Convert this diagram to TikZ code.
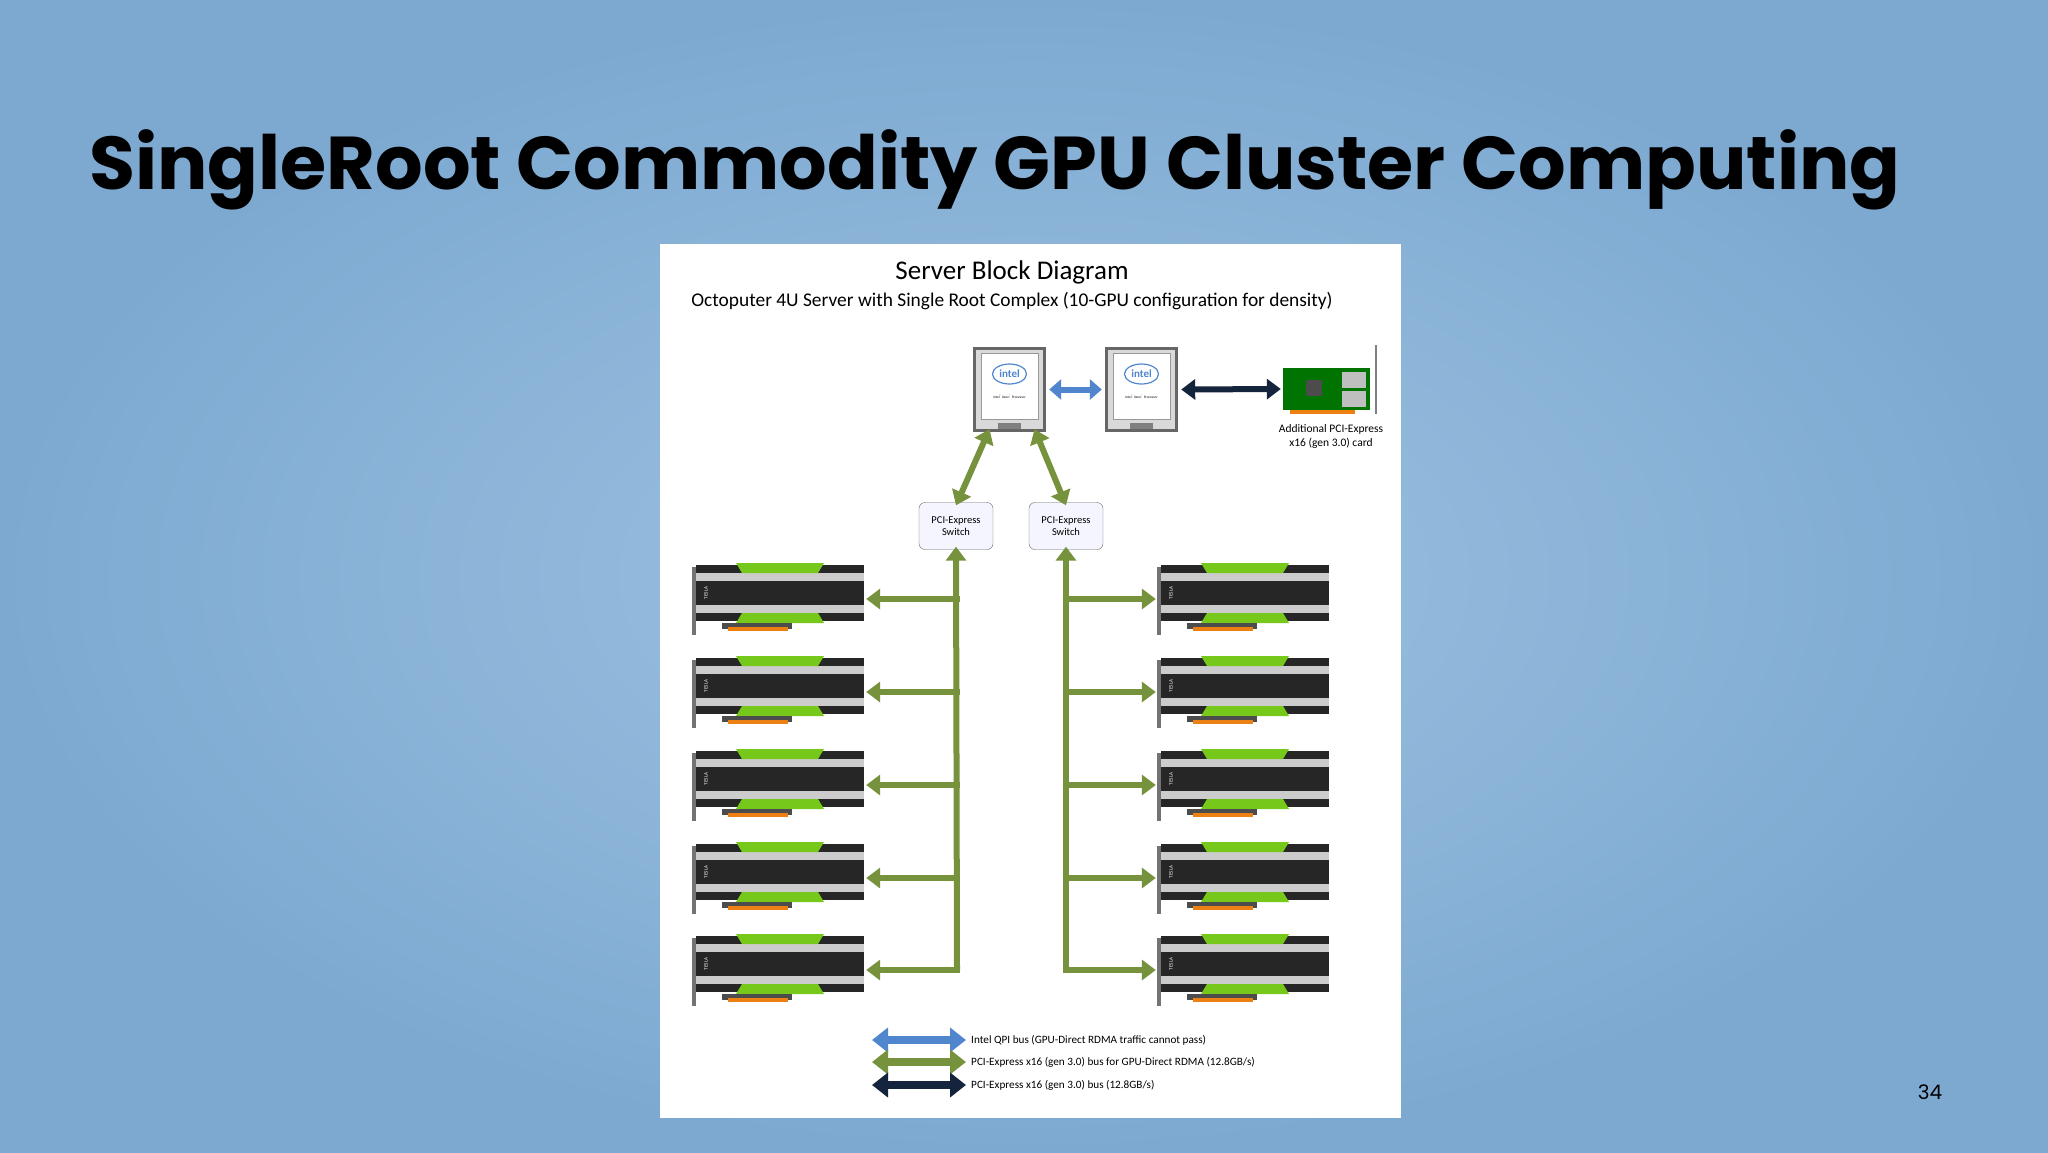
\documentclass[tikz,border=0pt]{standalone}
\usepackage{fontspec}
\setmainfont{Carlito}
\newfontfamily\titlefont{Poppins}
\usetikzlibrary{arrows.meta,shapes.geometric}
\definecolor{bgblue}{HTML}{8DB8DC}
\definecolor{bgedge}{HTML}{7DA9D1}
\definecolor{qpi}{HTML}{4F86CD}
\definecolor{pcig}{HTML}{76923C}
\definecolor{pcid}{HTML}{14243C}
\definecolor{nvg}{HTML}{76C81A}
\tikzset{
  bus/.style={line width=6pt,draw=pcig,{Triangle[length=14pt,width=20pt]}-{Triangle[length=14pt,width=20pt]}},
  onebus/.style={line width=6pt,draw=pcig,-{Triangle[length=14pt,width=20pt]}},
  leg/.style={line width=8pt,{Triangle[length=16pt,width=24pt]}-{Triangle[length=16pt,width=24pt]}},
  legtxt/.style={anchor=west,font=\fontsize{11.2}{13}\selectfont,inner sep=1pt},
  swbox/.style={draw=black!60,fill=blue!4,rounded corners=6pt,minimum width=74pt,minimum height=47pt,align=center,font=\fontsize{10.5}{12}\selectfont},
  cpu/.style={minimum width=73pt,minimum height=85pt,inner sep=0pt},
  gpu/.style={minimum width=173pt,minimum height=78pt,inner sep=0pt}
}
\newcommand{\gpucard}[2]{%
 \begin{scope}[shift={(#1,#2)}]
  \fill[black!55] (0,6) rectangle (4,74);
  \fill[black!85] (4,4) rectangle (172,60);
  \fill[black!20] (4,12) rectangle (172,20);
  \fill[black!20] (4,44) rectangle (172,52);
  \fill[nvg] (44,2) -- (132,2) -- (126,12) -- (50,12) -- cycle;
  \fill[nvg] (50,52) -- (126,52) -- (132,62) -- (44,62) -- cycle;
  \fill[black!70] (30,62) rectangle (100,68);
  \fill[orange!70!brown] (36,66) rectangle (96,70);
  \node[rotate=90,white,font=\fontsize{5}{5}\selectfont] at (14,32) {TESLA};
 \end{scope}}
\newcommand{\cpuchip}[2]{%
 \begin{scope}[shift={(#1,#2)}]
  \fill[black!60] (0,0) rectangle (73,85);
  \fill[black!15] (3,3) rectangle (70,82);
  \fill[white,draw=black!40] (8,6) rectangle (65,72);
  \draw[qpi,line width=1.2pt] (36.5,27) ellipse (17pt and 10pt);
  \node[qpi,font=\bfseries\fontsize{11}{11}\selectfont] at (36.5,27) {intel};
  \node[font=\fontsize{3.5}{4}\selectfont] at (36.5,50) {Intel\textsuperscript{®} Xeon\textsuperscript{®} Processor};
  \fill[black!50] (25,76) rectangle (48,82);
 \end{scope}}
\begin{document}
\begin{tikzpicture}[x=1pt,y=-1pt]
\useasboundingbox (0,0) rectangle (2048,1152);
\shade[inner color=bgblue!85!white,outer color=bgedge] (0,0) rectangle (2048,1152);
\node[anchor=west,inner sep=0pt] (title) at (89,170) {\resizebox{1811pt}{!}{\titlefont\bfseries SingleRoot Commodity GPU Cluster Computing}};
\fill[white] (660,244) rectangle (1401,1118);
\node[font=\fontsize{27}{30}\selectfont] (sbd) at (1012,272) {Server Block Diagram};
\node[font=\fontsize{19.4}{22}\selectfont] (sub) at (1012,301) {Octoputer 4U Server with Single Root Complex (10-GPU configuration for density)};
% CPUs
\cpuchip{973}{347}
\cpuchip{1105}{347}
\node[cpu] (cpuA) at (1009.5,389.5) {};
\node[cpu] (cpuB) at (1141.5,389.5) {};
% NIC
\begin{scope}
 \fill[green!45!black] (1283,368) rectangle (1370,410);
 \fill[black!70] (1306,380) rectangle (1322,396);
 \fill[black!25] (1342,372) rectangle (1366,388);
 \fill[black!25] (1342,391) rectangle (1366,407);
 \fill[orange!70!brown] (1290,410) rectangle (1355,414);
 \draw[black!50,line width=1.5pt] (1376,345) -- (1376,414);
\end{scope}
\node[minimum width=90pt,minimum height=48pt,inner sep=0pt] (nic) at (1328,389) {};
\node[align=center,font=\fontsize{11.5}{14}\selectfont] (niclbl) at (1331,436) {Additional PCI-Express\\x16 (gen 3.0) card};
\draw[line width=6pt,draw=qpi,{Triangle[length=12pt,width=20pt]}-{Triangle[length=12pt,width=20pt]}] ([xshift=3pt]cpuA.east) -- ([xshift=-3pt]cpuB.west);
\draw[line width=6pt,draw=pcid,{Triangle[length=14pt,width=20pt]}-{Triangle[length=14pt,width=20pt]}] ([xshift=3pt]cpuB.east) -- ([xshift=-2pt]nic.west);
% switches
\node[swbox] (sw1) at (956,526) {PCI-Express\\Switch};
\node[swbox] (sw2) at (1066,526) {PCI-Express\\Switch};
\draw[bus] ([xshift=-20pt,yshift=3pt]cpuA.south) -- ([yshift=-3pt]sw1.north);
\draw[bus] ([xshift=25pt,yshift=3pt]cpuA.south) -- ([yshift=-3pt]sw2.north);
% GPUs
\foreach \i/\y in {1/599,2/692,3/785,4/878,5/970}{
  \gpucard{692}{\y-38}
  \gpucard{1157}{\y-38}
  \node[gpu] (gl\i) at (778.5,\y) {};
  \node[gpu] (gr\i) at (1243.5,\y) {};
  \coordinate (jl\i) at (957,\y);
  \coordinate (jr\i) at (1066,\y);
}
\draw[line width=6pt,draw=pcig,line join=round,-{Triangle[length=14pt,width=20pt]}] (jl5) -- ([yshift=3pt]sw1.south);
\draw[line width=6pt,draw=pcig,line join=round,-{Triangle[length=14pt,width=20pt]}] (jr5) -- ([yshift=3pt]sw2.south);
\foreach \i in {1,...,5}{
  \draw[onebus] ([xshift=3pt]jl\i) -- ([xshift=1pt]gl\i.east);
  \draw[onebus] ([xshift=-3pt]jr\i) -- ([xshift=-1pt]gr\i.west);
}
% legend
\coordinate (l1a) at (872,1040); \coordinate (l1b) at (966,1040);
\coordinate (l2a) at (872,1062); \coordinate (l2b) at (966,1062);
\coordinate (l3a) at (872,1085); \coordinate (l3b) at (966,1085);
\draw[leg,draw=qpi] (l1a) -- (l1b);
\draw[leg,draw=pcig] (l2a) -- (l2b);
\draw[leg,draw=pcid] (l3a) -- (l3b);
\node[legtxt] (t1) at (970,1040) {Intel QPI bus (GPU-Direct RDMA traffic cannot pass)};
\node[legtxt] (t2) at (970,1062) {PCI-Express x16 (gen 3.0) bus for GPU-Direct RDMA (12.8GB/s)};
\node[legtxt] (t3) at (970,1085) {PCI-Express x16 (gen 3.0) bus (12.8GB/s)};
\node[font=\titlefont\fontsize{20}{24}\selectfont] (pg) at (1930,1092) {34};
\end{tikzpicture}
\end{document}
